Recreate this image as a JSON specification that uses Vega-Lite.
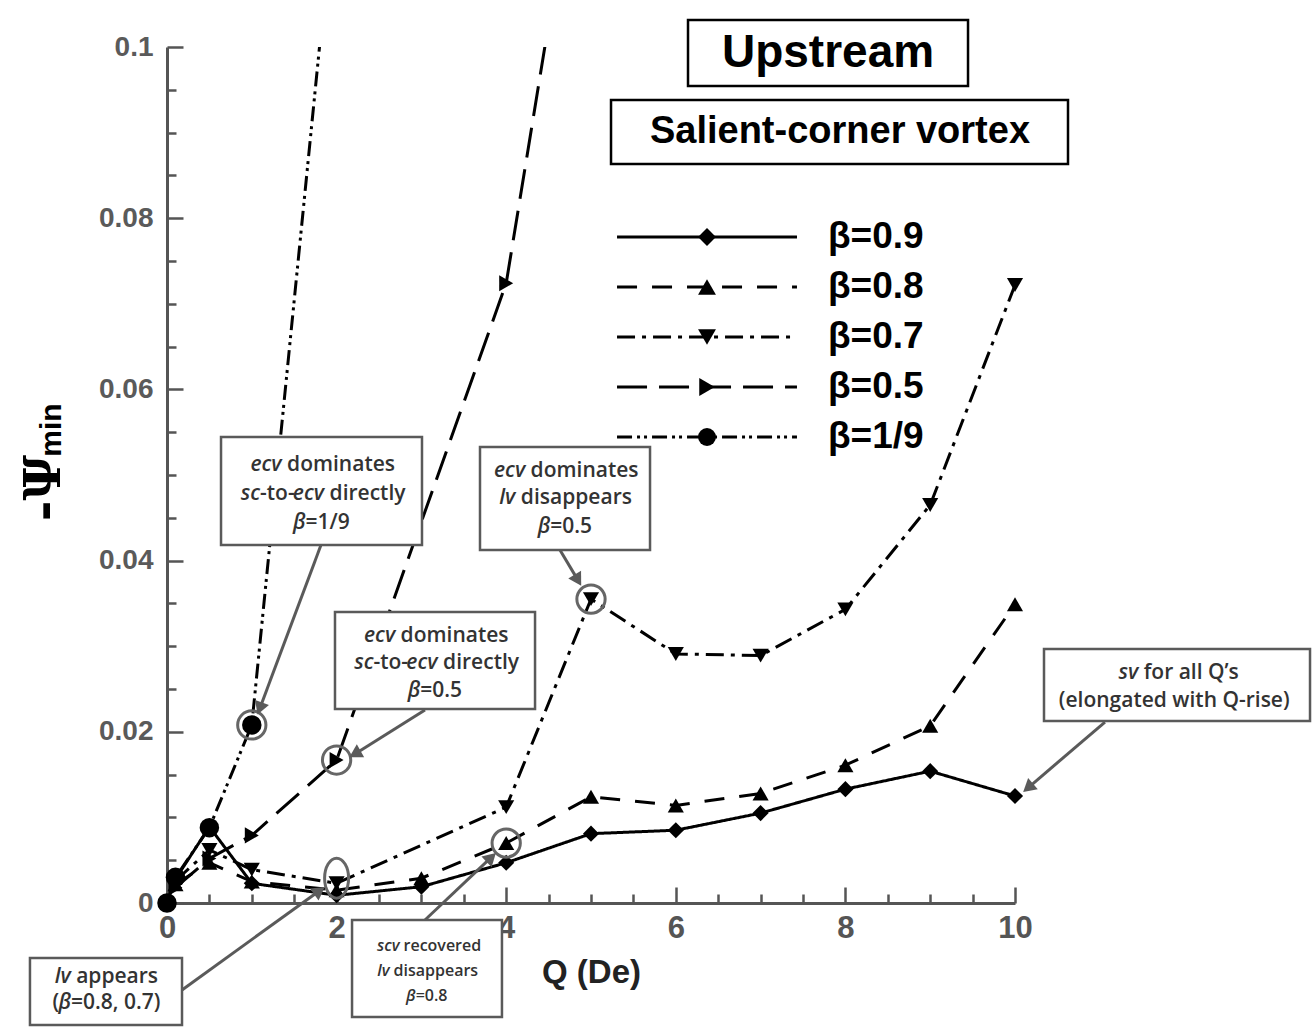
{
  "$schema": "https://vega.github.io/schema/vega-lite/v6.json",
  "width": 848,
  "height": 856,
  "autosize": {"type": "none"},
  "padding": {"left": 167, "top": 47, "right": 298, "bottom": 125},
  "background": "white",
  "config": {"view": {"stroke": null}},
  "datasets": {
    "series": [
      {"s": "β=0.9", "Q": 0.1, "v": 0.0028}, {"s": "β=0.9", "Q": 0.5, "v": 0.0089}, {"s": "β=0.9", "Q": 1, "v": 0.0023},
      {"s": "β=0.9", "Q": 2, "v": 0.0009}, {"s": "β=0.9", "Q": 3, "v": 0.0019}, {"s": "β=0.9", "Q": 4, "v": 0.0047},
      {"s": "β=0.9", "Q": 5, "v": 0.0081}, {"s": "β=0.9", "Q": 6, "v": 0.0085}, {"s": "β=0.9", "Q": 7, "v": 0.0105},
      {"s": "β=0.9", "Q": 8, "v": 0.0133}, {"s": "β=0.9", "Q": 9, "v": 0.0154}, {"s": "β=0.9", "Q": 10, "v": 0.0125},
      {"s": "β=0.8", "Q": 0.1, "v": 0.0022}, {"s": "β=0.8", "Q": 0.5, "v": 0.0047}, {"s": "β=0.8", "Q": 1, "v": 0.0025},
      {"s": "β=0.8", "Q": 2, "v": 0.0015}, {"s": "β=0.8", "Q": 3, "v": 0.0029}, {"s": "β=0.8", "Q": 4, "v": 0.0070},
      {"s": "β=0.8", "Q": 5, "v": 0.0124}, {"s": "β=0.8", "Q": 6, "v": 0.0114}, {"s": "β=0.8", "Q": 7, "v": 0.0128},
      {"s": "β=0.8", "Q": 8, "v": 0.0161}, {"s": "β=0.8", "Q": 9, "v": 0.0207}, {"s": "β=0.8", "Q": 10, "v": 0.0349},
      {"s": "β=0.7", "Q": 0.1, "v": 0.0026}, {"s": "β=0.7", "Q": 0.5, "v": 0.0062}, {"s": "β=0.7", "Q": 1, "v": 0.0039},
      {"s": "β=0.7", "Q": 2, "v": 0.0023}, {"s": "β=0.7", "Q": 4, "v": 0.0112}, {"s": "β=0.7", "Q": 5, "v": 0.0355},
      {"s": "β=0.7", "Q": 6, "v": 0.0291}, {"s": "β=0.7", "Q": 7, "v": 0.0289}, {"s": "β=0.7", "Q": 8, "v": 0.0343},
      {"s": "β=0.7", "Q": 9, "v": 0.0465}, {"s": "β=0.7", "Q": 10, "v": 0.0722},
      {"s": "β=0.5", "Q": 0.1, "v": 0.0018}, {"s": "β=0.5", "Q": 0.5, "v": 0.0052}, {"s": "β=0.5", "Q": 1, "v": 0.0079},
      {"s": "β=0.5", "Q": 2, "v": 0.0167}, {"s": "β=0.5", "Q": 4, "v": 0.0724}, {"s": "β=0.5", "Q": 5, "v": 0.133},
      {"s": "β=1/9", "Q": 0, "v": 0}, {"s": "β=1/9", "Q": 0.1, "v": 0.003}, {"s": "β=1/9", "Q": 0.5, "v": 0.0088},
      {"s": "β=1/9", "Q": 1, "v": 0.0208}, {"s": "β=1/9", "Q": 2, "v": 0.12}
    ],
    "legend": [{"s": "β=0.9"}, {"s": "β=0.8"}, {"s": "β=0.7"}, {"s": "β=0.5"}, {"s": "β=1/9"}],
    "circles": [{"Q": 1, "v": 0.0208}, {"Q": 2, "v": 0.0167}, {"Q": 5, "v": 0.0355}, {"Q": 4, "v": 0.007}],
    "ellipse": [{"Q": 2, "v": 0.0029}],
    "arrows": [
      {"Q": 1.816, "v": 0.04182, "Q2": 1.094, "v2": 0.02272, "a": -159.5},
      {"Q": 3.042, "v": 0.02255, "Q2": 2.216, "v2": 0.01741, "a": -119.8},
      {"Q": 4.634, "v": 0.04124, "Q2": 4.846, "v2": 0.03772, "a": 149.3},
      {"Q": 11.061, "v": 0.02114, "Q2": 10.154, "v2": 0.01346, "a": -130.5},
      {"Q": 3.042, "v": -0.00199, "Q2": 3.823, "v2": 0.00532, "a": 46.6},
      {"Q": 0.177, "v": -0.01016, "Q2": 1.798, "v2": 0.00144, "a": 54.2}
    ],
    "boxes": [
      {"Q": 0.637, "Q2": 3.007, "v": 0.05444, "v2": 0.04182},
      {"Q": 1.981, "Q2": 4.340, "v": 0.03400, "v2": 0.02266},
      {"Q": 3.691, "Q2": 5.696, "v": 0.05327, "v2": 0.04124},
      {"Q": 10.342, "Q2": 13.479, "v": 0.02967, "v2": 0.02126},
      {"Q": 2.182, "Q2": 3.950, "v": -0.00199, "v2": -0.01332},
      {"Q": -1.616, "Q2": 0.177, "v": -0.00643, "v2": -0.01425}
    ],
    "titleboxes": [
      {"Q": 6.144, "Q2": 9.446, "v": 0.10315, "v2": 0.09544},
      {"Q": 5.236, "Q2": 10.625, "v": 0.09381, "v2": 0.08633}
    ],
    "notes": [
      {"t": "ecv", "Q": 1.351, "v": 0.05117, "it": 1, "sm": 0},
      {"t": "dominates", "Q": 1.416, "v": 0.05117, "it": 0, "sm": 0},
      {"t": "sc", "Q": 1.097, "v": 0.04778, "it": 1, "sm": 0},
      {"t": "-to-", "Q": 1.097, "v": 0.04778, "it": 0, "sm": 0},
      {"t": "ecv", "Q": 1.851, "v": 0.04778, "it": 1, "sm": 0},
      {"t": "directly", "Q": 1.917, "v": 0.04778, "it": 0, "sm": 0},
      {"t": "β", "Q": 1.634, "v": 0.04439, "it": 1, "sm": 0},
      {"t": "=1/9", "Q": 1.634, "v": 0.04439, "it": 0, "sm": 0},
      {"t": "ecv", "Q": 2.690, "v": 0.03119, "it": 1, "sm": 0},
      {"t": "dominates", "Q": 2.755, "v": 0.03119, "it": 0, "sm": 0},
      {"t": "sc", "Q": 2.435, "v": 0.02804, "it": 1, "sm": 0},
      {"t": "-to-", "Q": 2.435, "v": 0.02804, "it": 0, "sm": 0},
      {"t": "ecv", "Q": 3.190, "v": 0.02804, "it": 1, "sm": 0},
      {"t": "directly", "Q": 3.256, "v": 0.02804, "it": 0, "sm": 0},
      {"t": "β", "Q": 2.987, "v": 0.02477, "it": 1, "sm": 0},
      {"t": "=0.5", "Q": 2.987, "v": 0.02477, "it": 0, "sm": 0},
      {"t": "ecv", "Q": 4.223, "v": 0.05047, "it": 1, "sm": 0},
      {"t": "dominates", "Q": 4.288, "v": 0.05047, "it": 0, "sm": 0},
      {"t": "lv", "Q": 4.106, "v": 0.04731, "it": 1, "sm": 0},
      {"t": "disappears", "Q": 4.173, "v": 0.04731, "it": 0, "sm": 0},
      {"t": "β", "Q": 4.520, "v": 0.04393, "it": 1, "sm": 0},
      {"t": "=0.5", "Q": 4.520, "v": 0.04393, "it": 0, "sm": 0},
      {"t": "sv", "Q": 11.453, "v": 0.02687, "it": 1, "sm": 0},
      {"t": "for all Q’s", "Q": 11.518, "v": 0.02687, "it": 0, "sm": 0},
      {"t": "(elongated with Q-rise)", "Q": 10.517, "v": 0.02360, "it": 0, "sm": 0},
      {"t": "scv", "Q": 2.742, "v": -0.00502, "it": 1, "sm": 1},
      {"t": "recovered", "Q": 2.789, "v": -0.00502, "it": 0, "sm": 1},
      {"t": "lv", "Q": 2.624, "v": -0.00794, "it": 1, "sm": 1},
      {"t": "disappears", "Q": 2.671, "v": -0.00794, "it": 0, "sm": 1},
      {"t": "β", "Q": 2.932, "v": -0.01086, "it": 1, "sm": 1},
      {"t": "=0.8", "Q": 2.932, "v": -0.01086, "it": 0, "sm": 1},
      {"t": "lv", "Q": -1.136, "v": -0.00864, "it": 1, "sm": 0},
      {"t": "appears", "Q": -1.071, "v": -0.00864, "it": 0, "sm": 0},
      {"t": "(", "Q": -1.351, "v": -0.01168, "it": 0, "sm": 0},
      {"t": "β", "Q": -1.132, "v": -0.01168, "it": 1, "sm": 0},
      {"t": "=0.8, 0.7)", "Q": -1.132, "v": -0.01168, "it": 0, "sm": 0}
    ]
  },
  "layer": [
    {
      "layer": [
        {
          "data": {"name": "series"},
          "mark": {"type": "line", "clip": true, "strokeWidth": 3, "color": "black"},
          "encoding": {
            "x": {
              "field": "Q", "type": "quantitative",
              "scale": {"domain": [0, 10], "nice": false, "zero": false},
              "axis": {
                "values": [0, 0.5, 1, 1.5, 2, 2.5, 3, 3.5, 4, 4.5, 5, 5.5, 6, 6.5, 7, 7.5, 8, 8.5, 9, 9.5, 10],
                "labelExpr": "datum.value % 2 === 0 ? '' + datum.value : ''",
                "tickSize": {"condition": {"test": "datum.value % 2 === 0", "value": -16}, "value": -9},
                "labelPadding": 26,
                "labelFlush": false, "labelOverlap": false, "grid": false,
                "domainColor": "#555", "domainWidth": 3, "tickColor": "#555", "tickWidth": 2.5,
                "labelFont": "Liberation Sans Narrow, Liberation Sans", "labelFontSize": 31, "labelFontWeight": "bold", "labelColor": "#555",
                "title": "Q (De)", "titleFont": "Liberation Sans Narrow, Liberation Sans", "titleFontSize": 33, "titleFontWeight": "bold",
                "titleColor": "#222", "titlePadding": 6
              }
            },
            "y": {
              "field": "v", "type": "quantitative",
              "scale": {"domain": [0, 0.1], "nice": false, "zero": false},
              "axis": {
                "values": [0, 0.005, 0.01, 0.015, 0.02, 0.025, 0.03, 0.035, 0.04, 0.045, 0.05, 0.055, 0.06, 0.065, 0.07, 0.075, 0.08, 0.085, 0.09, 0.095, 0.1],
                "labelExpr": "round(datum.value*1000) % 20 === 0 ? (datum.value === 0 ? '0' : format(datum.value, '.2~f')) : ''",
                "tickSize": {"condition": {"test": "round(datum.value*1000) % 20 === 0", "value": -16}, "value": -9},
                "labelPadding": 30,
                "labelFlush": false, "labelOverlap": false, "grid": false,
                "domainColor": "#555", "domainWidth": 3, "tickColor": "#555", "tickWidth": 2.5,
                "labelFont": "Liberation Sans", "labelFontSize": 28, "labelFontWeight": "bold", "labelColor": "#5a5a5a",
                "title": null
              }
            },
            "strokeDash": {
              "field": "s", "type": "nominal",
              "scale": {"domain": ["β=0.9", "β=0.8", "β=0.7", "β=0.5", "β=1/9"],
                        "range": [[1, 0], [20, 15], [18, 7, 4, 7], [30, 12], [15, 5, 3, 4, 3, 5]]},
              "legend": null
            }
          }
        },
        {
          "data": {"name": "series"},
          "transform": [{"filter": "datum.v <= 0.1 && datum.s === 'β=1/9'"}],
          "mark": {"type": "point", "filled": true, "color": "black", "opacity": 1, "size": 380},
          "encoding": {
            "x": {"field": "Q", "type": "quantitative"},
            "y": {"field": "v", "type": "quantitative"},
            "shape": {
              "field": "s", "type": "nominal",
              "scale": {"domain": ["β=0.9", "β=0.8", "β=0.7", "β=0.5", "β=1/9"],
                        "range": ["diamond", "triangle-up", "triangle-down", "triangle-right", "circle"]},
              "legend": null
            }
          }
        },
        {
          "data": {"name": "series"},
          "transform": [{"filter": "datum.v <= 0.1 && datum.s !== 'β=1/9'"}],
          "mark": {"type": "point", "filled": true, "color": "black", "opacity": 1, "size": 260},
          "encoding": {
            "x": {"field": "Q", "type": "quantitative"},
            "y": {"field": "v", "type": "quantitative"},
            "shape": {"field": "s", "type": "nominal", "legend": null}
          }
        },
        {
          "data": {"name": "circles"},
          "mark": {"type": "point", "shape": "circle", "filled": false, "stroke": "#666", "strokeWidth": 3, "opacity": 1, "size": 800},
          "encoding": {
            "x": {"field": "Q", "type": "quantitative"},
            "y": {"field": "v", "type": "quantitative"}
          }
        },
        {
          "data": {"name": "ellipse"},
          "mark": {"type": "point", "shape": "M-0.6,0A0.6,1,0,1,1,0.6,0A0.6,1,0,1,1,-0.6,0Z", "filled": false, "stroke": "#666", "strokeWidth": 3, "opacity": 1, "size": 1600},
          "encoding": {
            "x": {"field": "Q", "type": "quantitative"},
            "y": {"field": "v", "type": "quantitative"}
          }
        },
        {
          "data": {"name": "arrows"},
          "mark": {"type": "rule", "color": "#5a5a5a", "strokeWidth": 3},
          "encoding": {
            "x": {"field": "Q", "type": "quantitative"},
            "y": {"field": "v", "type": "quantitative"},
            "x2": {"field": "Q2"},
            "y2": {"field": "v2"}
          }
        },
        {
          "data": {"name": "arrows"},
          "mark": {"type": "point", "shape": "triangle-up", "filled": true, "color": "#5a5a5a", "opacity": 1, "size": 220},
          "encoding": {
            "x": {"field": "Q2", "type": "quantitative"},
            "y": {"field": "v2", "type": "quantitative"},
            "angle": {"field": "a", "type": "quantitative", "scale": null}
          }
        },
        {
          "data": {"name": "boxes"},
          "mark": {"type": "rect", "fill": "white", "stroke": "#5a5a5a", "strokeWidth": 2.5},
          "encoding": {
            "x": {"field": "Q", "type": "quantitative"},
            "x2": {"field": "Q2"},
            "y": {"field": "v", "type": "quantitative"},
            "y2": {"field": "v2"}
          }
        },
        {
          "data": {"name": "titleboxes"},
          "mark": {"type": "rect", "fill": "white", "stroke": "black", "strokeWidth": 2.5},
          "encoding": {
            "x": {"field": "Q", "type": "quantitative"},
            "x2": {"field": "Q2"},
            "y": {"field": "v", "type": "quantitative"},
            "y2": {"field": "v2"}
          }
        },
        {
          "data": {"values": [{"t": "Upstream", "Q": 7.795, "v": 0.0993}]},
          "mark": {"type": "text", "font": "Liberation Sans", "fontSize": 46, "fontWeight": "bold", "color": "black", "align": "center", "baseline": "middle"},
          "encoding": {
            "x": {"field": "Q", "type": "quantitative"},
            "y": {"field": "v", "type": "quantitative"},
            "text": {"field": "t"}
          }
        },
        {
          "data": {"values": [{"t": "Salient-corner vortex", "Q": 7.936, "v": 0.09007}]},
          "mark": {"type": "text", "font": "Liberation Sans", "fontSize": 38, "fontWeight": "bold", "color": "black", "align": "center", "baseline": "middle"},
          "encoding": {
            "x": {"field": "Q", "type": "quantitative"},
            "y": {"field": "v", "type": "quantitative"},
            "text": {"field": "t"}
          }
        },
        {
          "data": {"name": "notes"},
          "transform": [{"filter": "datum.it === 1 && datum.sm === 0"}],
          "mark": {"type": "text", "font": "Open Sans", "fontSize": 21, "fontStyle": "italic", "fontWeight": 600, "color": "#333", "align": "right", "baseline": "middle"},
          "encoding": {
            "x": {"field": "Q", "type": "quantitative"},
            "y": {"field": "v", "type": "quantitative"},
            "text": {"field": "t"}
          }
        },
        {
          "data": {"name": "notes"},
          "transform": [{"filter": "datum.it === 0 && datum.sm === 0"}],
          "mark": {"type": "text", "font": "Open Sans", "fontSize": 21, "fontWeight": 600, "color": "#333", "align": "left", "baseline": "middle"},
          "encoding": {
            "x": {"field": "Q", "type": "quantitative"},
            "y": {"field": "v", "type": "quantitative"},
            "text": {"field": "t"}
          }
        },
        {
          "data": {"name": "notes"},
          "transform": [{"filter": "datum.it === 1 && datum.sm === 1"}],
          "mark": {"type": "text", "font": "Open Sans", "fontSize": 16, "fontStyle": "italic", "fontWeight": 600, "color": "#333", "align": "right", "baseline": "middle"},
          "encoding": {
            "x": {"field": "Q", "type": "quantitative"},
            "y": {"field": "v", "type": "quantitative"},
            "text": {"field": "t"}
          }
        },
        {
          "data": {"name": "notes"},
          "transform": [{"filter": "datum.it === 0 && datum.sm === 1"}],
          "mark": {"type": "text", "font": "Open Sans", "fontSize": 16, "fontWeight": 600, "color": "#333", "align": "left", "baseline": "middle"},
          "encoding": {
            "x": {"field": "Q", "type": "quantitative"},
            "y": {"field": "v", "type": "quantitative"},
            "text": {"field": "t"}
          }
        },
        {
          "data": {"values": [{"t": "-Ψ", "Q": -1.439, "v": 0.04848}]},
          "mark": {"type": "text", "font": "DejaVu Serif", "fontSize": 50, "fontWeight": "bold", "color": "black", "align": "center", "baseline": "middle", "angle": 270},
          "encoding": {
            "x": {"field": "Q", "type": "quantitative"},
            "y": {"field": "v", "type": "quantitative"},
            "text": {"field": "t"}
          }
        },
        {
          "data": {"values": [{"t": "min", "Q": -1.356, "v": 0.05526}]},
          "mark": {"type": "text", "font": "Liberation Sans", "fontSize": 30, "fontWeight": "bold", "color": "black", "align": "center", "baseline": "middle", "angle": 270},
          "encoding": {
            "x": {"field": "Q", "type": "quantitative"},
            "y": {"field": "v", "type": "quantitative"},
            "text": {"field": "t"}
          }
        }
      ]
    },
    {
      "data": {"name": "legend"},
      "layer": [
        {
          "mark": {"type": "rule", "strokeWidth": 3, "color": "black"},
          "encoding": {
            "x": {"datum": 5.307},
            "x2": {"datum": 7.429},
            "y": {"field": "s", "type": "ordinal",
                  "scale": {"type": "point", "domain": ["β=0.9", "β=0.8", "β=0.7", "β=0.5", "β=1/9"], "range": [190, 390], "padding": 0},
                  "axis": null},
            "strokeDash": {"field": "s", "type": "nominal", "legend": null}
          }
        },
        {
          "mark": {"type": "point", "filled": true, "color": "black", "opacity": 1, "size": 320},
          "encoding": {
            "x": {"datum": 6.368},
            "y": {"field": "s", "type": "ordinal", "axis": null},
            "shape": {"field": "s", "type": "nominal", "legend": null}
          }
        },
        {
          "mark": {"type": "text", "font": "Liberation Sans", "fontSize": 37, "fontWeight": "bold", "color": "black", "align": "left", "baseline": "middle"},
          "encoding": {
            "x": {"datum": 7.795},
            "y": {"field": "s", "type": "ordinal", "axis": null},
            "text": {"field": "s"}
          }
        }
      ]
    }
  ],
  "resolve": {"scale": {"y": "independent"}}
}
